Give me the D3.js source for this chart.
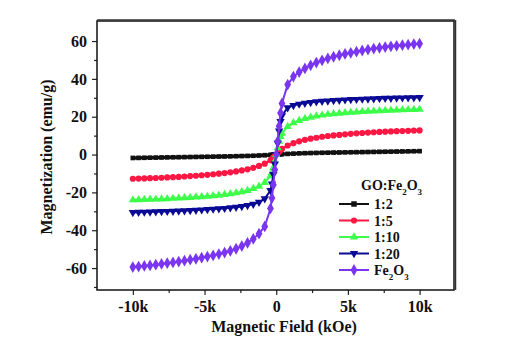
<!DOCTYPE html>
<html><head><meta charset="utf-8">
<script src="https://cdnjs.cloudflare.com/ajax/libs/d3/7.8.5/d3.min.js"></script>
<style>
body{margin:0;background:#fff;}
svg text{font-family:"Liberation Serif","Times New Roman",Times,"DejaVu Serif",serif !important;font-weight:bold;fill:#111;}
</style></head>
<body><svg id="c" width="527" height="350"></svg>
<script>
// Magnetic field (Oe)
const fieldOe = [-10000,-9600,-9200,-8800,-8400,-8000,-7600,-7200,-6800,-6400,-6000,-5600,-5200,-4800,-4400,-4000,-3600,-3200,-2800,-2400,-2000,-1600,-1200,-800,-400,-300,-200,-100,0,100,200,300,400,800,1200,1600,2000,2400,2800,3200,3600,4000,4400,4800,5200,5600,6000,6400,6800,7200,7600,8000,8400,8800,9200,9600,10000];
// Magnetization (emu/g)
const m_1_2 = [-1.8,-1.75,-1.7,-1.65,-1.6,-1.55,-1.5,-1.45,-1.4,-1.35,-1.3,-1.25,-1.2,-1.15,-1.1,-1.05,-1.0,-0.95,-0.88,-0.8,-0.72,-0.62,-0.5,-0.36,-0.2,-0.15,-0.1,-0.05,0,0.05,0.1,0.15,0.2,0.36,0.5,0.62,0.72,0.8,0.88,0.95,1.0,1.05,1.1,1.15,1.2,1.25,1.3,1.35,1.4,1.45,1.5,1.55,1.6,1.65,1.7,1.75,1.8];
const m_1_5 = [-12.8,-12.7,-12.6,-12.5,-12.4,-12.25,-12.1,-11.95,-11.8,-11.6,-11.4,-11.2,-10.95,-10.7,-10.4,-10.1,-9.8,-9.4,-8.9,-8.4,-7.8,-7.0,-6.0,-4.8,-3.0,-2.3,-1.6,-0.8,0,0.8,1.6,2.3,3.0,4.8,6.0,7.0,7.8,8.4,8.9,9.4,9.8,10.1,10.4,10.7,10.95,11.2,11.4,11.6,11.8,11.95,12.1,12.25,12.35,12.45,12.55,12.65,12.75];
const m_1_10 = [-24.0,-23.9,-23.8,-23.7,-23.6,-23.5,-23.4,-23.2,-23.05,-22.9,-22.7,-22.5,-22.3,-22.05,-21.8,-21.5,-21.2,-20.8,-20.3,-19.7,-19.0,-18.0,-16.8,-14.8,-11.2,-9.5,-7.0,-3.5,0,3.5,7.0,9.5,11.2,14.8,16.8,18.0,19.0,19.7,20.3,20.8,21.2,21.5,21.8,22.05,22.3,22.5,22.7,22.85,23.0,23.15,23.3,23.4,23.5,23.6,23.7,23.8,23.9];
const m_1_20 = [-30.6,-30.5,-30.4,-30.3,-30.2,-30.1,-30.0,-29.9,-29.8,-29.65,-29.5,-29.35,-29.2,-29.0,-28.8,-28.6,-28.4,-28.1,-27.8,-27.4,-26.9,-26.2,-25.2,-23.3,-19.0,-15.5,-10.5,-5.0,0,6.0,12.5,17.5,20.5,24.8,26.0,26.7,27.2,27.6,27.9,28.2,28.4,28.6,28.8,28.95,29.1,29.2,29.35,29.45,29.55,29.65,29.75,29.85,29.9,30.0,30.05,30.1,30.2];
const m_fe2o3 = [-59.5,-59.2,-58.9,-58.6,-58.2,-57.8,-57.4,-57.0,-56.6,-56.1,-55.6,-55.1,-54.5,-53.9,-53.3,-52.6,-51.8,-50.9,-49.8,-48.4,-46.7,-44.6,-41.8,-38.0,-28.5,-23.0,-16.0,-8.0,0,7.0,15.0,22.0,27.0,37.0,41.2,43.6,45.5,47.2,48.6,49.8,50.8,51.7,52.5,53.2,53.8,54.4,55.0,55.5,56.0,56.4,56.8,57.2,57.5,57.8,58.1,58.4,58.6];

const seriesNames = ["1:2","1:5","1:10","1:20","Fe2O3"];
const seriesValues = [m_1_2, m_1_5, m_1_10, m_1_20, m_fe2o3];
const seriesColors = ["#111111","#ff1744","#3dff4a","#0a0a96","#7a35f0"];
const seriesSymbols = [d3.symbolSquare, d3.symbolCircle, d3.symbolTriangle, d3.symbolTriangle, d3.symbolDiamond];

const xTicks = [-10000,-5000,0,5000,10000];
const xTickLabels = ["-10k","-5k","0","5k","10k"];
const xMinor = [-7500,-2500,2500,7500];
const yTicks = [-60,-40,-20,0,20,40,60];
const yTickLabels = ["-60","-40","-20","0","20","40","60"];
const yMinor = [-70,-50,-30,-10,10,30,50];

const FONT = '"Liberation Serif","Times New Roman",Times,"DejaVu Serif",serif';
const L=97, R=454, T=21, B=290;
const x = d3.scaleLinear().domain([-12500,12400]).range([L,R]);
const y = d3.scaleLinear().domain([-71.6,70.6]).range([B,T]);
const svg = d3.select("#c");

// axes
const gx = svg.append("g").attr("transform",`translate(0,${B})`)
  .call(d3.axisBottom(x).tickValues(xTicks).tickFormat((d,i)=>xTickLabels[i]).tickSize(5).tickPadding(6));
svg.append("g").attr("transform",`translate(0,${B})`)
  .call(d3.axisBottom(x).tickValues(xMinor).tickFormat("").tickSize(3));
const gy = svg.append("g").attr("transform",`translate(${L},0)`)
  .call(d3.axisLeft(y).tickValues(yTicks).tickFormat((d,i)=>yTickLabels[i]).tickSize(5).tickPadding(5));
svg.append("g").attr("transform",`translate(${L},0)`)
  .call(d3.axisLeft(y).tickValues(yMinor).tickFormat("").tickSize(3));
svg.selectAll("g").attr("font-family",FONT);
svg.selectAll(".domain").remove();
svg.selectAll(".tick line").attr("stroke","#222").attr("stroke-width",1.2);
gx.selectAll("text").attr("font-family",FONT).style("font-size","16px").attr("fill","#111");
gy.selectAll("text").attr("font-family",FONT).style("font-size","16px").attr("fill","#111");

// series
const line = d3.line().x((d,i)=>x(fieldOe[i])).y(d=>y(d));
seriesValues.forEach((vals,k)=>{
  const g = svg.append("g");
  g.append("path").datum(vals).attr("d",line).attr("fill","none")
    .attr("stroke",seriesColors[k]).attr("stroke-width",k===0?3.4:2);
  const sym = d3.symbol().type(seriesSymbols[k]).size(k===4?40:(k===0?22:30));
  g.selectAll("path.m").data(vals).join("path").attr("class","m")
    .attr("d",sym)
    .attr("transform",(d,i)=>`translate(${x(fieldOe[i])},${y(d)})${k===3?" rotate(180)":""}`)
    .attr("fill",seriesColors[k]);
});

// frame
svg.append("rect").attr("x",L).attr("y",T).attr("width",R-L).attr("height",B-T)
  .attr("fill","none").attr("stroke","#111").attr("stroke-width",1.5);
svg.append("line").attr("x1",L).attr("x2",R+1).attr("y1",T-1).attr("y2",T-1).attr("stroke","#333").attr("stroke-width",1.5);
svg.append("line").attr("x1",R+1.5).attr("x2",R+1.5).attr("y1",T-1).attr("y2",B).attr("stroke","#333").attr("stroke-width",1.5);

// axis titles
svg.append("text").attr("font-family",FONT).attr("x",284).attr("y",332).attr("text-anchor","middle").style("font-size","16px").text("Magnetic Field (kOe)");
svg.append("text").attr("font-family",FONT).attr("transform","translate(52,157) rotate(-90)").attr("text-anchor","middle").style("font-size","16px").text("Magnetization (emu/g)");

// legend
function sub(t, str){
  const parts = str.split(/(\d)/);
  parts.forEach(p=>{
    if(p==="") return;
    if(/\d/.test(p)) t.append("tspan").attr("baseline-shift","sub").style("font-size","9px").text(p);
    else t.append("tspan").text(p);
  });
}
const lt = svg.append("text").attr("font-family",FONT).attr("x",361).attr("y",190).style("font-size","14px");
lt.append("tspan").text("GO:");
sub(lt,"Fe2O3");
seriesNames.forEach((nm,k)=>{
  const yy = 204 + k*16.5;
  svg.append("line").attr("x1",339).attr("x2",369).attr("y1",yy).attr("y2",yy)
    .attr("stroke",seriesColors[k]).attr("stroke-width",2);
  svg.append("path").attr("d",d3.symbol().type(seriesSymbols[k]).size(k===4?40:30)())
    .attr("transform",`translate(354,${yy})${k===3?" rotate(180)":""}`).attr("fill",seriesColors[k]);
  const t = svg.append("text").attr("font-family",FONT).attr("x",374).attr("y",yy+5).style("font-size","14px");
  if(nm==="Fe2O3") sub(t,nm); else t.text(nm);
});
</script></body></html>
